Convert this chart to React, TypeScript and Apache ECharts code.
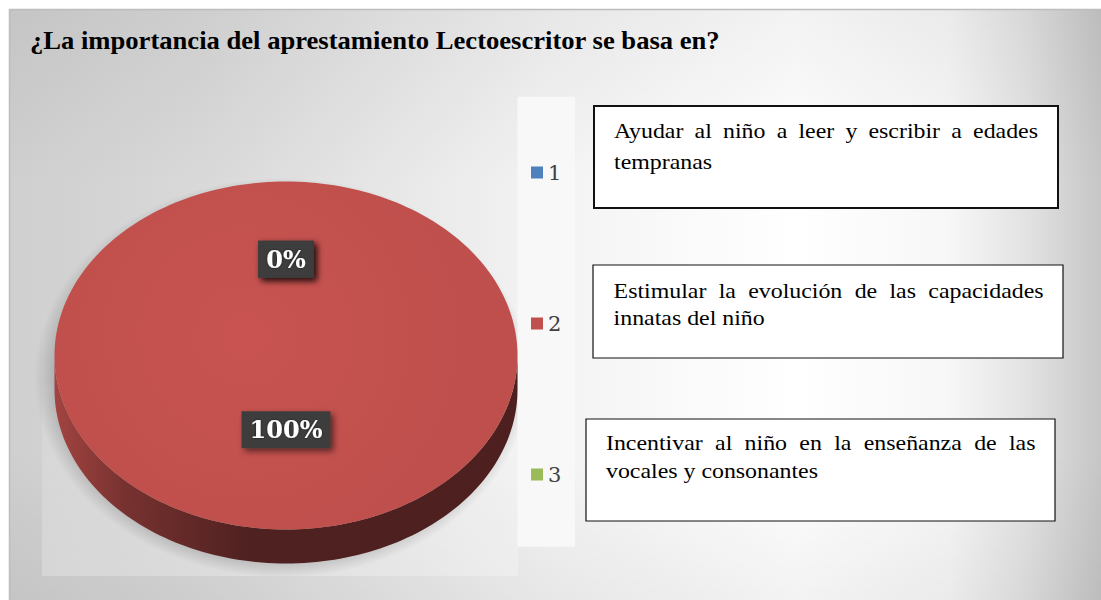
import React, { useEffect, useRef } from 'react';
import * as echarts from 'echarts';

const titleText = '¿La importancia del aprestamiento Lectoescritor se basa en?';
const categories = ['1', '2', '3'];
const values = [0, 100, 0];
const colors = ['#4F81BD', '#C0504D', '#9BBB59'];
const boxLines = [
  ['Ayudar al niño a leer y escribir a edades', 'tempranas'],
  ['Estimular la evolución de las capacidades', 'innatas del niño'],
  ['Incentivar al niño en la enseñanza de las', 'vocales y consonantes'],
];

// layout (pixels)
const CX = 286, CY = 355.5, RX = 231.5, RY = 174, DEPTH = 34;
const BOXES = [
  { x: 594, y: 106, w: 464, h: 102, tx: 614, tr: 1038, b1: 138.3, b2: 169, lw: 2 },
  { x: 593, y: 265, w: 470, h: 93, tx: 613.6, tr: 1043.6, b1: 298.3, b2: 325.3, lw: 1.2 },
  { x: 586, y: 419, w: 469, h: 102, tx: 606, tr: 1035.5, b1: 450.7, b2: 478.3, lw: 1.2 },
];

function shade(hex: string, f: number) {
  const n = parseInt(hex.slice(1), 16);
  const r = Math.min(255, Math.round(((n >> 16) & 255) * f));
  const g = Math.min(255, Math.round(((n >> 8) & 255) * f));
  const b = Math.min(255, Math.round((n & 255) * f));
  return 'rgb(' + r + ',' + g + ',' + b + ')';
}

function pt(theta: number, dy = 0) {
  return [CX + RX * Math.sin(theta), CY - RY * Math.cos(theta) + dy];
}

export default function App() {
  const ref = useRef<HTMLDivElement>(null);
  useEffect(() => {
    if (!ref.current) return;
    const chart = echarts.init(ref.current, null, { renderer: 'svg' });
    const canvas = document.createElement('canvas');
    const ctx = canvas.getContext('2d')!;
    const measure = (t: string, font: string) => {
      ctx.font = font;
      return ctx.measureText(t).width;
    };
    const total = values.reduce((a, b) => a + b, 0);

    const makeRender = (i: number) => (params: any, api: any) => {
      const v = api.value(0);
      const before = values.slice(0, i).reduce((a, b) => a + b, 0);
      const start = (before / total) * Math.PI * 2;
      const end = start + (v / total) * Math.PI * 2;
      const color = colors[i];
      const children: any[] = [];
      // side (front visible part)
      const a = Math.max(start, Math.PI / 2);
      const b = Math.min(end, Math.PI * 1.5);
      if (b > a) {
        const pts: number[][] = [];
        const N = 120;
        for (let k = 0; k <= N; k++) pts.push(pt(a + ((b - a) * k) / N));
        for (let k = N; k >= 0; k--) pts.push(pt(a + ((b - a) * k) / N, DEPTH));
        children.push({
          type: 'polygon',
          shape: { points: pts },
          style: {
            fill: new echarts.graphic.LinearGradient(CX - RX, 0, CX + RX, 0, [
              { offset: 0, color: shade(color, 0.85) },
              { offset: 0.15, color: shade(color, 0.62) },
              { offset: 0.42, color: shade(color, 0.41) },
              { offset: 1, color: shade(color, 0.4) },
            ], true),
          },
        });
      }
      if (end > start) {
        const pts: number[][] = [];
        const full = end - start >= Math.PI * 2 - 1e-6;
        if (!full) pts.push([CX, CY]);
        const N = 240;
        for (let k = 0; k <= N; k++) pts.push(pt(start + ((end - start) * k) / N));
        children.push({
          type: 'polygon',
          shape: { points: pts },
          style: {
            fill: new echarts.graphic.RadialGradient(CX - 40, CY - 20, RX * 1.1, [
              { offset: 0, color: shade(color, 1.04) },
              { offset: 1, color: shade(color, 0.99) },
            ], true),
          },
        });
      }
      const mid = (start + end) / 2;
      const k = 0.49;
      children.push({
        type: 'text',
        x: CX + k * RX * Math.sin(mid),
        y: CY - 11 - k * RY * Math.cos(mid),
        z2: 10,
        style: {
          text: Math.round((v / total) * 100) + '%',
          fill: '#ffffff',
          font: 'bold 24px "DejaVu Serif"',
          align: 'center',
          verticalAlign: 'middle',
          backgroundColor: '#3d3d3d',
          padding: [7, 8, 6, 8],
          shadowBlur: 6,
          shadowOffsetX: 3,
          shadowOffsetY: 3,
          shadowColor: 'rgba(0,0,0,0.55)',
          textShadowBlur: 2,
          textShadowColor: 'rgba(0,0,0,0.6)',
        },
      });
      return { type: 'group', children };
    };

    const series = categories.map((c, i) => ({
      type: 'custom',
      name: c,
      coordinateSystem: 'none',
      itemStyle: { color: colors[i] },
      data: [[values[i]]],
      renderItem: makeRender(i),
      z: 3,
    }));

    const graphics: any[] = [];
    // background
    graphics.push({
      type: 'rect',
      z: 0,
      shape: { x: 9, y: 9, width: 1092, height: 591 },
      style: {
        fill: new echarts.graphic.LinearGradient(9, 0, 1101, 0, [
          { offset: 0, color: '#cfcfcf' },
          { offset: 0.18, color: '#d9d9d9' },
          { offset: 0.49, color: '#f3f3f3' },
          { offset: 0.72, color: '#ffffff' },
          { offset: 0.86, color: '#f7f7f7' },
          { offset: 0.93, color: '#e3e3e3' },
          { offset: 1, color: '#c6c6c6' },
        ], true),
      },
      silent: true,
    });
    graphics.push({
      type: 'rect',
      z: 0,
      shape: { x: 9, y: 9, width: 1092, height: 591 },
      style: {
        fill: new echarts.graphic.LinearGradient(0, 9, 0, 600, [
          { offset: 0, color: 'rgba(0,0,0,0.05)' },
          { offset: 0.3, color: 'rgba(0,0,0,0)' },
          { offset: 0.75, color: 'rgba(0,0,0,0)' },
          { offset: 1, color: 'rgba(0,0,0,0.05)' },
        ], true),
      },
      silent: true,
    });
    // plot floor (lighter area under the pie)
    graphics.push({
      type: 'rect',
      z: 0,
      shape: { x: 42, y: 300, width: 476, height: 276 },
      style: {
        fill: new echarts.graphic.LinearGradient(0, 300, 0, 576, [
          { offset: 0, color: 'rgba(255,255,255,0)' },
          { offset: 1, color: 'rgba(255,255,255,0.25)' },
        ], true),
      },
      silent: true,
    });
    // soft shadow of the pie
    const SR = 200;
    graphics.push({
      type: 'circle',
      z: 1,
      x: CX - 4,
      y: CY + 22,
      scaleX: (RX + 16) / SR,
      shape: { cx: 0, cy: 0, r: SR },
      style: {
        fill: new echarts.graphic.RadialGradient(0.5, 0.5, 0.5, [
          { offset: 0, color: 'rgba(0,0,0,0.3)' },
          { offset: 0.87, color: 'rgba(0,0,0,0.27)' },
          { offset: 0.94, color: 'rgba(0,0,0,0.12)' },
          { offset: 1, color: 'rgba(0,0,0,0)' },
        ]),
      },
      silent: true,
    });
    graphics.push({ type: 'line', z: 1, shape: { x1: 9.5, y1: 9, x2: 9.5, y2: 600 }, style: { stroke: '#bdbdbd', lineWidth: 1.5 } });
    graphics.push({ type: 'line', z: 1, shape: { x1: 9, y1: 9.5, x2: 1101, y2: 9.5 }, style: { stroke: '#bdbdbd', lineWidth: 1.5 } });
    // legend panel
    graphics.push({ type: 'rect', z: 1, shape: { x: 517.5, y: 96.7, width: 57.5, height: 450 }, style: { fill: '#f8f8f8' } });
    // title
    const titleFont = 'bold 26px "Liberation Serif"';
    const tw = measure(titleText, titleFont);
    graphics.push({
      type: 'text',
      z: 5,
      x: 30,
      y: 49.3 - 0.34 * 26,
      scaleX: 690 / tw,
      style: { text: titleText, font: titleFont, fill: '#000000', align: 'left', verticalAlign: 'middle' },
    });
    // text boxes
    const fs = 22;
    const boxFont = fs + 'px "Liberation Serif"';
    const sx = 1.085;
    BOXES.forEach((bx, bi) => {
      graphics.push({
        type: 'rect',
        z: 5,
        shape: { x: bx.x, y: bx.y, width: bx.w, height: bx.h },
        style: { fill: '#ffffff', stroke: '#111111', lineWidth: bx.lw },
      });
      const [l1, l2] = boxLines[bi];
      const words = l1.split(' ');
      const ws = words.map((w) => measure(w, boxFont) * sx);
      const sum = ws.reduce((a, b) => a + b, 0);
      const gap = (bx.tr - bx.tx - sum) / (words.length - 1);
      let x = bx.tx;
      words.forEach((w, wi) => {
        graphics.push({
          type: 'text',
          z: 6,
          x,
          y: bx.b1 - 0.34 * fs,
          scaleX: sx,
          style: { text: w, font: boxFont, fill: '#000000', align: 'left', verticalAlign: 'middle' },
        });
        x += ws[wi] + gap;
      });
      graphics.push({
        type: 'text',
        z: 6,
        x: bx.tx,
        y: bx.b2 - 0.34 * fs,
        scaleX: sx,
        style: { text: l2, font: boxFont, fill: '#000000', align: 'left', verticalAlign: 'middle' },
      });
    });

    chart.setOption({
      animation: false,
      color: colors,
      graphic: graphics,
      legend: {
        data: categories,
        orient: 'vertical',
        left: 531,
        top: 162,
        padding: 0,
        itemGap: 130,
        itemWidth: 12,
        itemHeight: 12,
        icon: 'rect',
        selectedMode: false,
        textStyle: { color: '#404040', fontFamily: 'DejaVu Serif', fontSize: 21, lineHeight: 20 },
      },
      series,
    });
    return () => chart.dispose();
  }, []);
  return <div ref={ref} style={{ position: 'absolute', left: 0, top: 0, width: 1101, height: 600, background: '#ffffff' }} />;
}
